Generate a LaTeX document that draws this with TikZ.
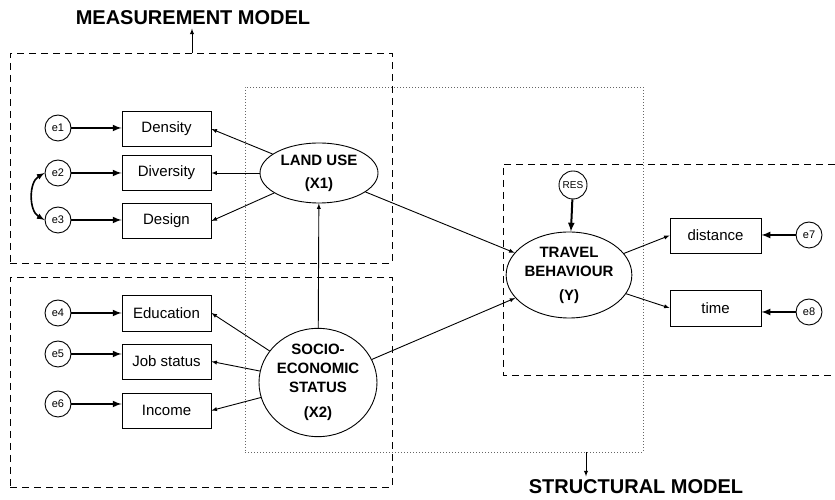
\documentclass[tikz,border=0pt]{standalone}
\usepackage{fontspec}
\setmainfont{Liberation Sans}
\usetikzlibrary{arrows,positioning,shapes.geometric}

\begin{document}
\begin{tikzpicture}[
    x=1pt, y=1pt,
    obs/.style={draw, line width=0.9pt, minimum width=89pt, minimum height=35pt, inner sep=0pt, font=\fontsize{15}{17}\selectfont},
    err/.style={draw, circle, line width=0.9pt, minimum size=26pt, inner sep=0pt, font=\fontsize{11}{12}\selectfont},
    lat/.style={draw, ellipse, line width=0.9pt, minimum width=118pt, inner sep=0pt, align=center, font=\fontsize{15}{19}\selectfont\bfseries},
    title/.style={font=\fontsize{20}{22}\selectfont\bfseries},
    arr/.style={-latex, line width=0.9pt},
    errarr/.style={-latex, line width=2pt},
    mbox/.style={draw, dash pattern=on 7pt off 5pt, line width=0.9pt},
    sbox/.style={draw, dash pattern=on 1pt off 2pt, line width=0.9pt, gray!80!black}
]
\useasboundingbox (0,0) rectangle (835,500);

% --- model frames ---
\node[mbox, minimum width=382pt, minimum height=210pt] (mtop) at (201,342) {};
\node[mbox, minimum width=382pt, minimum height=210pt] (mlow) at (201,118) {};
\node[sbox, minimum width=398pt, minimum height=365pt] (sfrm) at (444,230.5) {};
\draw[mbox] (835,336) -- (503,336) -- (503,125) -- (835,125);

\node[title] (mmlab) at (193,482) {MEASUREMENT MODEL};
\node[title] (smlab) at (636,13) {STRUCTURAL MODEL};
\coordinate (mmtail) at (192,447);
\coordinate (smtail) at (586,48);
\draw[arr] (mmtail) -- (mmtail |- mmlab.south);
\draw[arr] (smtail) -- (smtail |- smlab.north);

% --- land use block ---
\node[obs] (dens) at (166.5,371) {Density};
\node[obs] (div) at (166.5,327) {Diversity};
\node[obs] (des) at (166.5,279) {Design};
\node[err] (e1) at (58,372) {e1};
\node[err] (e2) at (58,327) {e2};
\node[err] (e3) at (58,280) {e3};
\node[lat, minimum height=60pt] (lu) at (319,327) {LAND USE\\[4pt](X1)};

% --- socio-economic block ---
\node[obs, minimum height=36pt] (edu) at (166.5,187) {Education};
\node[obs] (job) at (166.5,138.5) {Job status};
\node[obs] (inc) at (166.5,89.5) {Income};
\node[err] (e4) at (58,187) {e4};
\node[err] (e5) at (58,146) {e5};
\node[err] (e6) at (58,96) {e6};
\node[lat, minimum height=98pt] (ses) at (318,117.5) {SOCIO-\\ECONOMIC\\STATUS\\[6pt](X2)};

% --- travel behaviour block ---
\node[lat, minimum height=86pt] (tb) at (569,225) {TRAVEL\\BEHAVIOUR\\[5pt](Y)};
\node[err, minimum size=28pt, font=\fontsize{10}{11}\selectfont] (res) at (573,315) {RES};
\node[obs, minimum width=91pt] (dist) at (715.5,264.5) {distance};
\node[obs, minimum width=91pt, minimum height=36pt] (time) at (715.5,192) {time};
\node[err] (e7) at (809,265) {e7};
\node[err] (e8) at (809,188) {e8};

% errors
\draw[errarr] (e1) -- (e1 -| dens.west);
\draw[errarr] (e2) -- (e2 -| div.west);
\draw[errarr] (e3) -- (e3 -| des.west);
\draw[errarr] (e4) -- (e4 -| edu.west);
\draw[errarr] (e5) -- (e5 -| job.west);
\draw[errarr] (e6) -- (e6 -| inc.west);
\draw[errarr] (e7) -- (e7 -| dist.east);
\draw[errarr] (e8) -- (e8 -| time.east);
\draw[errarr] (res) -- (tb);
\draw[latex-latex, line width=1.6pt] (e2.west) to[bend right=60] (e3.west);

% loadings
\draw[arr] (lu) -- (dens.east);
\draw[arr] (lu) -- (div.east);
\draw[arr] (lu) -- (des.east);
\draw[arr] (ses) -- (edu.east);
\draw[arr] (ses) -- (job.east);
\draw[arr] (ses) -- (inc.east);
\draw[arr] (tb) -- (dist.west);
\draw[arr] (tb) -- (time.west);

% structural paths
\draw[arr] (ses) -- (lu);
\draw[arr] (lu) -- (tb);
\draw[arr] (ses) -- (tb);
\end{tikzpicture}
\end{document}
